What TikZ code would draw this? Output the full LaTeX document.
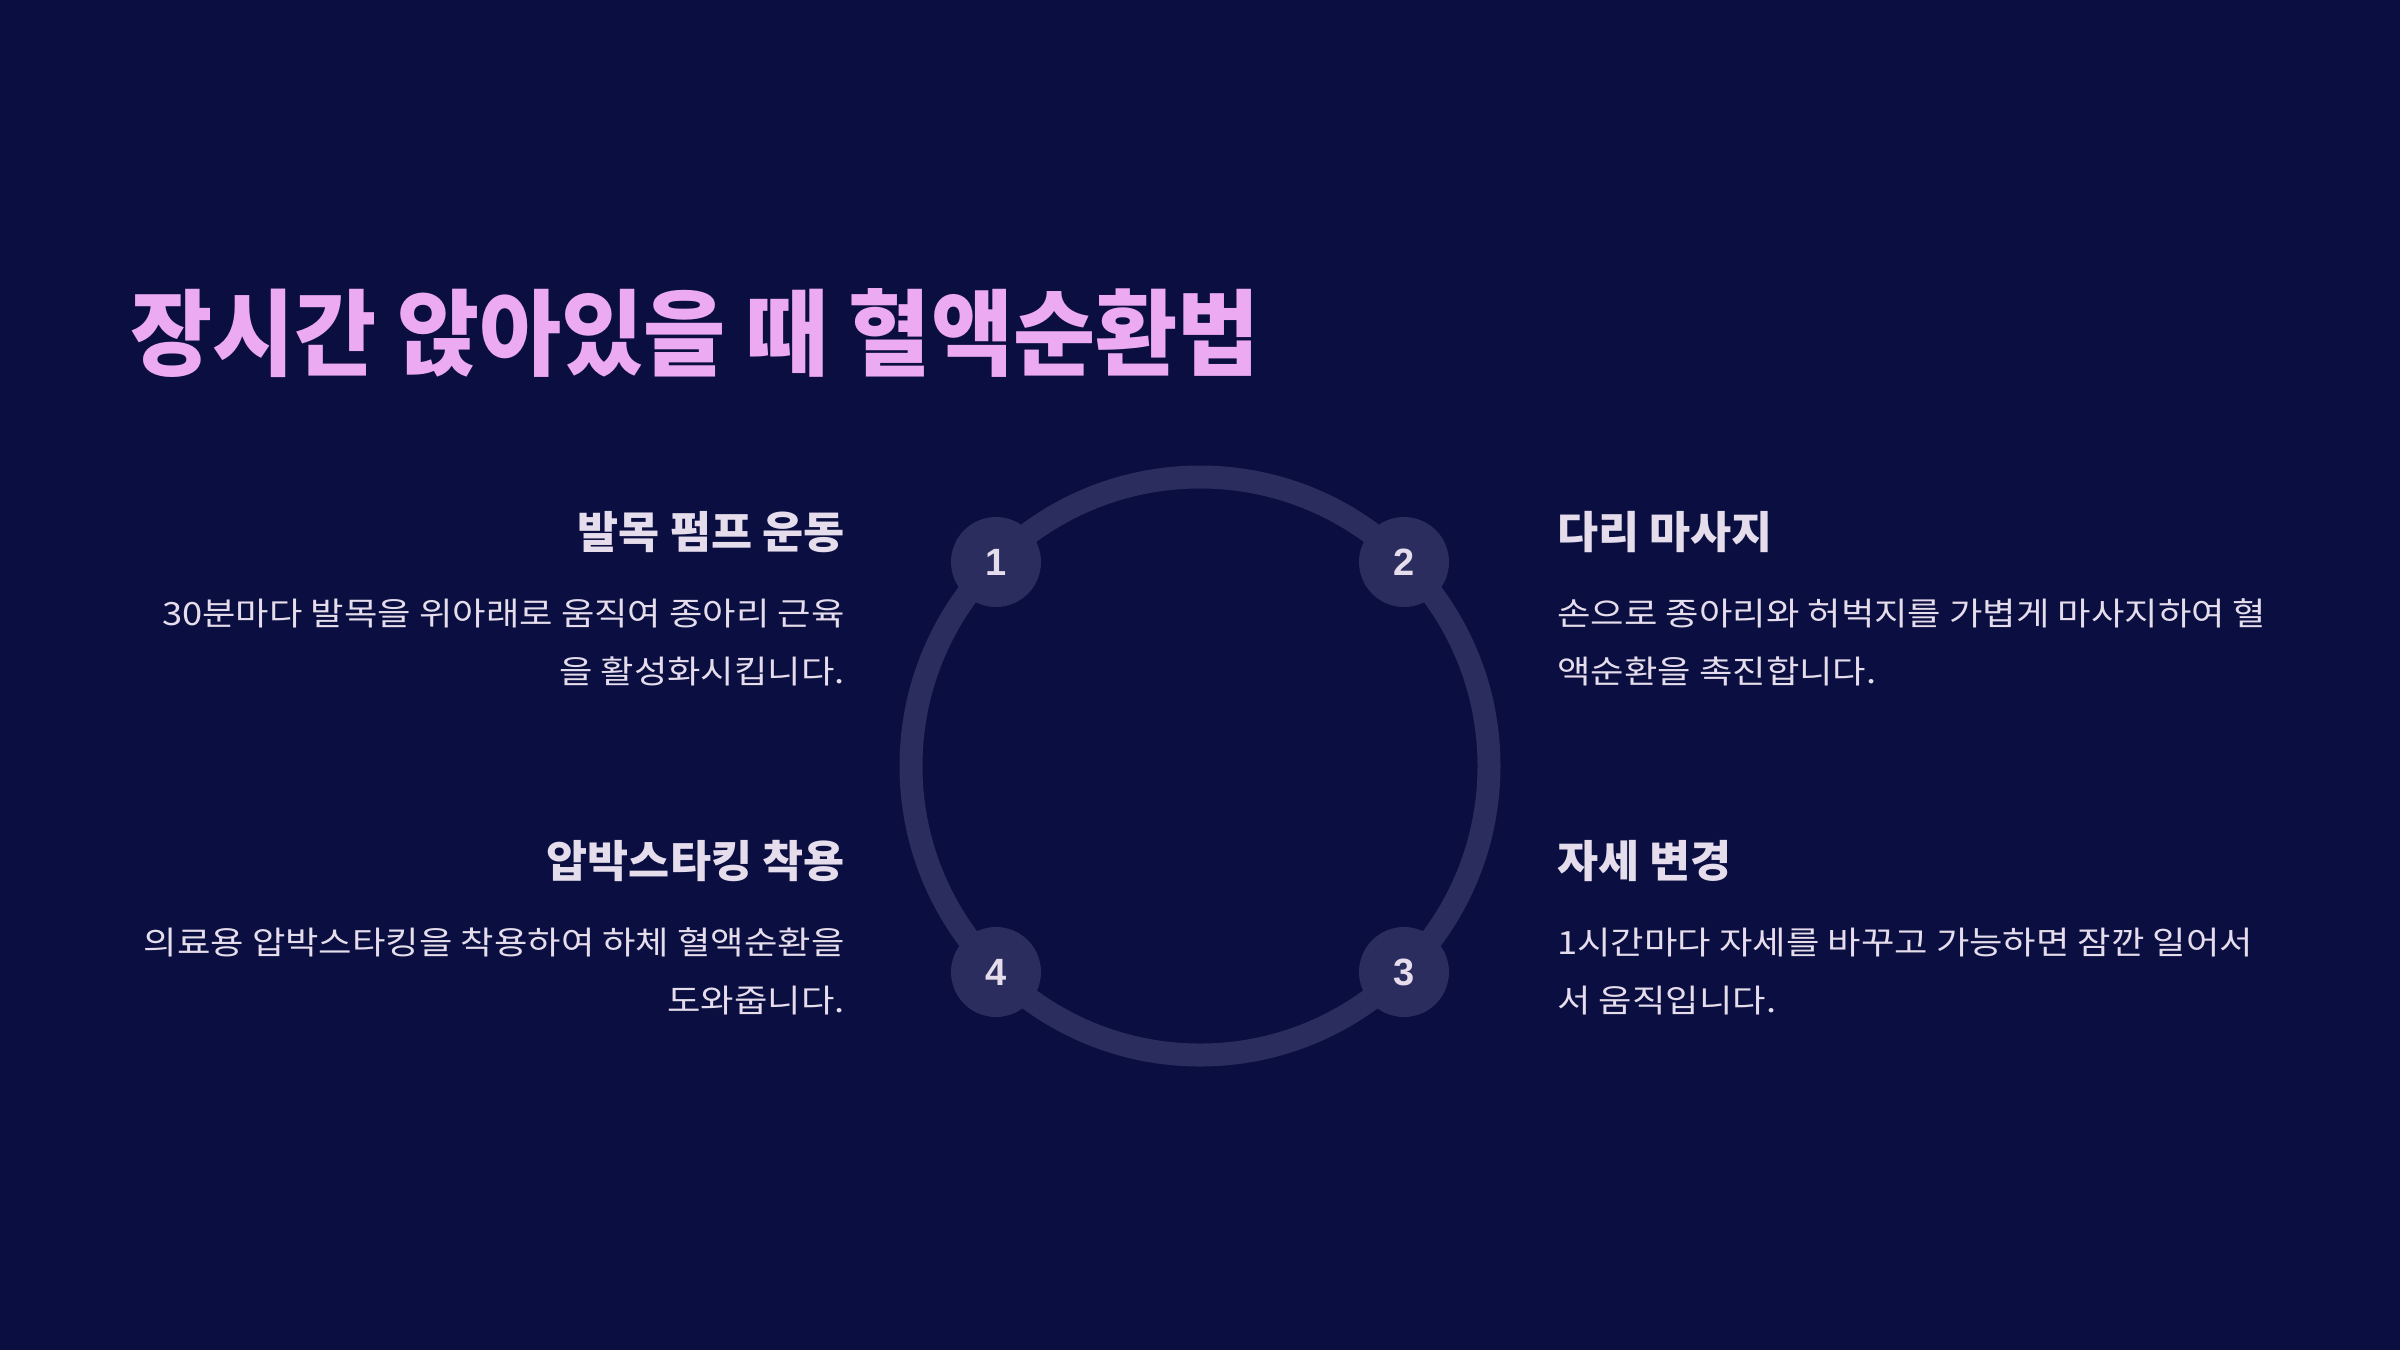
\documentclass[tikz,border=0pt]{standalone}
\usepackage{fontspec}
\usepackage{graphicx}
\setmainfont{Noto Sans CJK KR}
\newfontfamily\numfont{Liberation Sans}
\definecolor{bg}{HTML}{0A0E40}
\definecolor{ringcol}{HTML}{2A2D5E}
\definecolor{titlepink}{HTML}{ECAAF2}
\definecolor{txt}{HTML}{E6DDEC}
\tikzset{
  heading/.style={inner sep=0, text=txt, font=\bfseries\fontsize{22}{22}\selectfont},
  body/.style={inner sep=0, text=txt, font=\fontsize{16}{16}\selectfont},
  badge/.style={circle, fill=ringcol, minimum size=45pt, inner sep=0, text=txt, font=\numfont\bfseries\fontsize{19}{19}\selectfont},
  ring/.style={draw=ringcol, line width=11.5pt}
}
\newcommand{\hx}[1]{\scalebox{1.015}[1]{#1}}
\newcommand{\bx}[1]{\scalebox{1.135}[1]{#1}}
\begin{document}
\begin{tikzpicture}[x=0.5pt,y=-0.5pt]
\fill[bg] (0,0) rectangle (2400,1350);
\useasboundingbox (0,0) rectangle (2400,1350);
% title
\node[anchor=base west, inner sep=0, text=titlepink, font=\bfseries\fontsize{47}{47}\selectfont] (title) at (130,368) {\scalebox{0.95}[1]{장시간 앉아있을 때 혈액순환법}};
% ring
\coordinate (c) at (1200,766);
\draw[ring] (c) circle[radius=289];
\node[badge] (b1) at (996,562) {1};
\node[badge] (b2) at (1404,562) {2};
\node[badge] (b3) at (1404,972) {3};
\node[badge] (b4) at (996,972) {4};
% block 1
\node[heading, anchor=base east] (h1) at (845,548) {\hx{발목 펌프 운동}};
\node[body, anchor=base east] (t1a) at (845,625) {\bx{30분마다 발목을 위아래로 움직여 종아리 근육}};
\node[body, anchor=base east] (t1b) at (845,683) {\bx{을 활성화시킵니다.}};
% block 2
\node[heading, anchor=base west] (h2) at (1557,548) {\hx{다리 마사지}};
\node[body, anchor=base west] (t2a) at (1557,625) {\bx{손으로 종아리와 허벅지를 가볍게 마사지하여 혈}};
\node[body, anchor=base west] (t2b) at (1557,683) {\bx{액순환을 촉진합니다.}};
% block 4
\node[heading, anchor=base east] (h4) at (845,877) {\hx{압박스타킹 착용}};
\node[body, anchor=base east] (t4a) at (845,954) {\bx{의료용 압박스타킹을 착용하여 하체 혈액순환을}};
\node[body, anchor=base east] (t4b) at (845,1012) {\bx{도와줍니다.}};
% block 3
\node[heading, anchor=base west] (h3) at (1557,877) {\hx{자세 변경}};
\node[body, anchor=base west] (t3a) at (1557,954) {\bx{1시간마다 자세를 바꾸고 가능하면 잠깐 일어서}};
\node[body, anchor=base west] (t3b) at (1557,1012) {\bx{서 움직입니다.}};
\end{tikzpicture}
\end{document}
